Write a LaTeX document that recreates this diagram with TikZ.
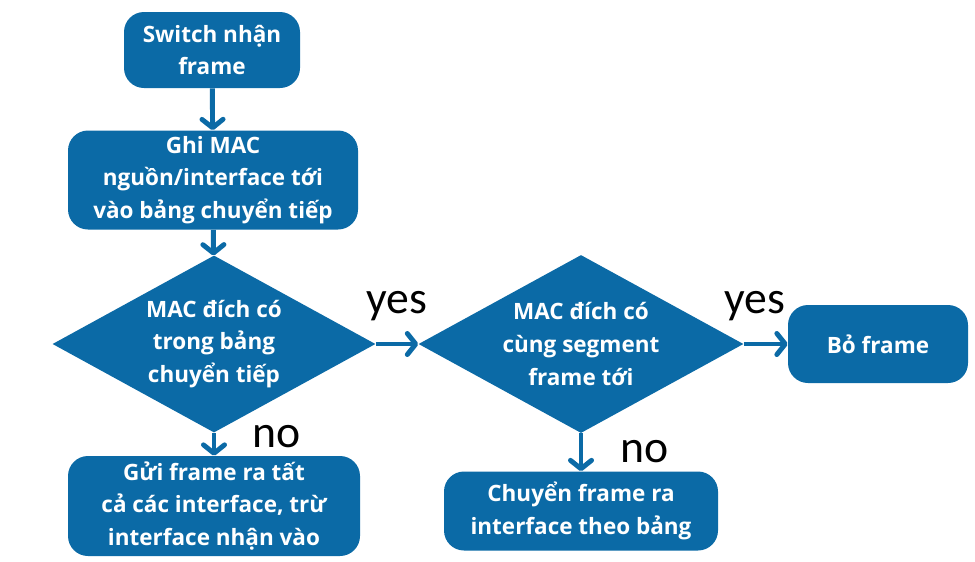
\documentclass[tikz,border=0pt]{standalone}
\usepackage{fontspec}
\setmainfont{Open Sans}
\newfontfamily\lblfont{Carlito}
\usetikzlibrary{shapes.geometric,arrows.meta}
\definecolor{swblue}{RGB}{11,106,166}

\begin{document}
\begin{tikzpicture}[
    x=0.025cm, y=-0.025cm,
    box/.style={rectangle, fill=swblue, rounded corners=0.5cm, text=white, align=center,
        inner sep=0pt, font=\bfseries\fontsize{16}{23.3}\selectfont},
    decision/.style={diamond, aspect=1.83, fill=swblue, text=white, align=center,
        inner sep=0pt, font=\bfseries\fontsize{16}{23.3}\selectfont},
    lbl/.style={anchor=base, font=\lblfont\fontsize{32.5}{38}\selectfont},
    flow/.style={draw=swblue, line width=3.5pt, -{Straight Barb[round, length=6pt, width=15pt]}}
]
    \useasboundingbox (0,0) rectangle (975,561);

    \node[box, minimum width=176*0.025cm, minimum height=76*0.025cm] (recv) at (212,50) {Switch nhận\\frame};
    \node[box, minimum width=290*0.025cm, minimum height=99*0.025cm] (learn) at (213,180) {Ghi MAC\\nguồn/interface tới\\vào bảng chuyển tiếp};
    \node[decision, minimum width=323*0.025cm, minimum height=177*0.025cm] (known) at (214,344) {MAC đích có\\trong bảng\\chuyển tiếp};
    \node[box, minimum width=292*0.025cm, minimum height=100*0.025cm] (flood) at (214,506) {Gửi frame ra tất\\cả các interface, trừ\\interface nhận vào};
    \node[decision, minimum width=325*0.025cm, minimum height=178*0.025cm] (same) at (581,344) {MAC đích có\\cùng segment\\frame tới};
    \node[box, minimum width=274*0.025cm, minimum height=79*0.025cm] (fwd) at (581,511) {Chuyển frame ra\\interface theo bảng};
    \node[box, minimum width=180*0.025cm, minimum height=78*0.025cm] (drop) at (878,344) {Bỏ frame};

    \draw[flow] (recv) -- (learn);
    \draw[flow] (learn) -- (known);
    \draw[flow] (known) -- (flood);
    \draw[flow] (known) -- (same);
    \draw[flow] (same) -- (drop);
    \draw[flow] (same) -- (fwd);

    \node[lbl] (yes1) at (397,313) {yes};
    \node[lbl] (yes2) at (755,313) {yes};
    \node[lbl] (no1) at (277,447) {no};
    \node[lbl] (no2) at (645,462) {no};
\end{tikzpicture}
\end{document}
